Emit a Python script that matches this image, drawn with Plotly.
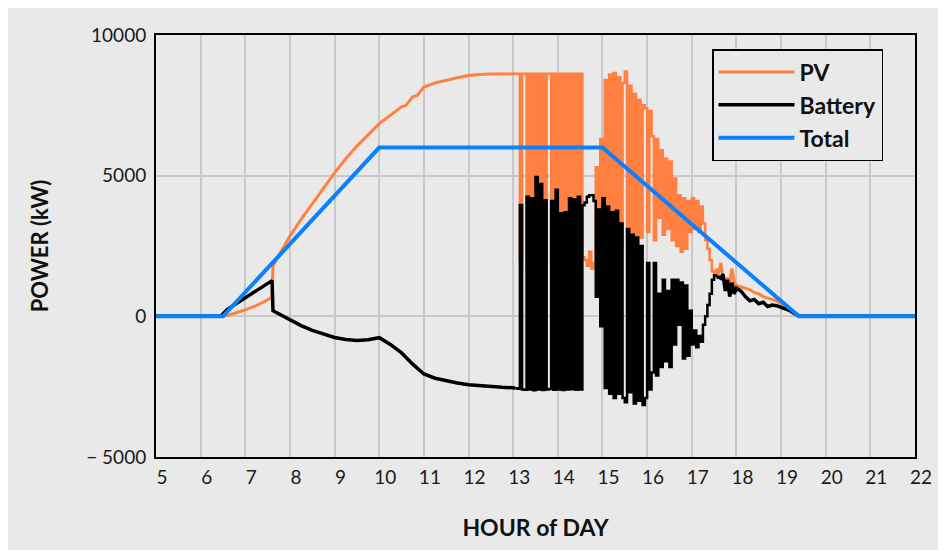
import plotly.graph_objects as go

# ---------------- data ----------------
total_t = [5, 6.5, 10.0, 15.0, 19.4, 22]
total_kw = [0, 0, 6000, 6000, 0, 0]

pv_head_t = [5, 6.45, 6.6, 6.8, 7.0, 7.2, 7.4, 7.6, 7.62, 7.8, 8.0, 8.25, 8.5, 8.75, 9.0, 9.25,
             9.5, 9.75, 10.0, 10.25, 10.5, 10.6, 10.75, 10.85, 11.0, 11.25, 11.5, 11.75, 12.0,
             12.25, 12.5, 12.75, 13.0, 13.05]
pv_head = [0, 0, 30, 120, 230, 350, 500, 680, 1800, 2300, 2850, 3450, 4000, 4550, 5100, 5600,
           6050, 6450, 6850, 7150, 7450, 7500, 7800, 7850, 8150, 8300, 8400, 8480, 8560,
           8600, 8610, 8620, 8620, 8620]

bat_head_t = [5, 6.45, 6.6, 6.8, 7.0, 7.2, 7.4, 7.6, 7.62, 7.8, 8.0, 8.25, 8.5, 8.75, 9.0, 9.25,
              9.5, 9.75, 9.95, 10.0, 10.25, 10.5, 10.75, 11.0, 11.25, 11.5, 11.75, 12.0, 12.25,
              12.5, 12.75, 13.0, 13.05]
bat_head = [0, 0, 250, 450, 680, 850, 1050, 1270, 200, 50, -150, -330, -500, -640, -750, -820,
            -860, -830, -770, -760, -1000, -1300, -1700, -2050, -2200, -2300, -2370, -2430, -2470,
            -2500, -2520, -2540, -2560]

noise_t = [13.05, 13.10, 13.15, 13.20, 13.25, 13.30, 13.35, 13.40, 13.45, 13.50,
           13.55, 13.60, 13.65, 13.70, 13.75, 13.80, 13.85, 13.90, 13.95, 14.00,
           14.05, 14.10, 14.15, 14.20, 14.25, 14.30, 14.35, 14.40, 14.45, 14.50,
           14.55, 14.60, 14.65, 14.70, 14.75, 14.80, 14.85, 14.90, 14.95, 15.00,
           15.05, 15.10, 15.15, 15.20, 15.25, 15.30, 15.35, 15.40, 15.45, 15.50,
           15.55, 15.60, 15.65, 15.70, 15.75, 15.80, 15.85, 15.90, 15.95, 16.00,
           16.05, 16.10, 16.15, 16.20, 16.25, 16.30, 16.35, 16.40, 16.45, 16.50,
           16.55, 16.60, 16.65, 16.70, 16.75, 16.80, 16.85, 16.90, 16.95, 17.00,
           17.05, 17.10, 17.15, 17.20, 17.25, 17.30, 17.35, 17.40, 17.45, 17.50,
           17.55]
pv_noise = [8620, 8620, 2000, 8620, 8620, 1700, 8620, 1800, 8620, 1050,
            8620, 1300, 8620, 1900, 8620, 8620, 1900, 8620, 1500, 8620,
            2400, 8620, 2300, 8620, 1800, 8620, 1900, 8620, 1800, 8620,
            2100, 2000, 1800, 2300, 1700, 1900, 5300, 2200, 6300, 1800,
            8400, 2000, 8600, 2200, 8650, 2100, 8500, 2500, 8300, 8700,
            2600, 8200, 2700, 7900, 2600, 7700, 2800, 7500, 7400, 3000,
            7300, 6400, 2700, 6300, 3500, 5900, 2900, 5600, 3100, 5500,
            2700, 4900, 2500, 4300, 2300, 4200, 2400, 4100, 3000, 4200,
            3100, 4100, 3000, 3900, 3300, 2700, 2400, 2000, 1600, 1500,
            1700]
bat_noise = [-2560, -2570, 3960, -2600, -2610, 4250, -2600, 4200, -2630, 4950,
             -2600, 4700, -2620, 4130, -2600, -2580, 4100, -2610, 4500, -2600,
             3660, -2620, 3700, -2600, 4200, -2590, 4150, -2610, 4250, -2600,
             3950, 4050, 4250, 4300, 4300, 4100, 700, 3800, -350, 4200,
             -2550, 3900, -2750, 3700, -2900, 3750, -2750, 3300, -2900, -3050,
             3100, -2700, 2900, -3100, 2800, -3000, 2500, -3150, -2900, 1900,
             -2600, -2000, 1900, -2100, 800, -1800, 1300, -1600, 900, -1800,
             1300, -1000, 1300, -300, 1200, -1500, 1100, -1400, 200, -1000,
             -500, -1100, -700, -900, -300, 0, 400, 800, 1300, 1450,
             1400]

tail_t = [17.55, 17.6, 17.65, 17.7, 17.75, 17.8, 17.85, 17.9, 17.95, 18.0, 18.1, 18.2, 18.3,
          18.4, 18.5, 18.6, 18.7, 18.8, 18.9, 19.0, 19.1, 19.2, 19.3, 19.4, 19.45, 22]
pv_tail = [1700, 1500, 1900, 1400, 1300, 1350, 1200, 1700, 1200, 1100, 1050, 1000, 950,
           850, 800, 700, 650, 600, 550, 450, 350, 250, 150, 30, 0, 0]
bat_tail = [1400, 1400, 1350, 1500, 900, 1300, 700, 1200, 800, 1000, 900, 700, 550,
            600, 450, 500, 350, 400, 380, 330, 250, 200, 100, 0, 0, 0]

x_ticks = list(range(5, 23))
y_ticks = [-5000, 0, 5000, 10000]
y_tick_text = ["\u2212 5000", "0", "5000", "10000"]

# ---------------- style ----------------
PV_C = "#ff8040"
BAT_C = "#000000"
TOT_C = "#0a80ff"
BG = "#e9e9e9"
FONT = "Lato"

fig = go.Figure()

fig.add_trace(go.Scatter(x=pv_head_t, y=pv_head, mode="lines", name="PV", legendgroup="pv",
                         line=dict(color=PV_C, width=3)))
fig.add_trace(go.Scatter(x=noise_t, y=pv_noise, mode="lines", name="PV", legendgroup="pv",
                         showlegend=False, line=dict(color=PV_C, width=2.5, shape="hv")))
fig.add_trace(go.Scatter(x=tail_t, y=pv_tail, mode="lines", name="PV", legendgroup="pv",
                         showlegend=False, line=dict(color=PV_C, width=3)))

fig.add_trace(go.Scatter(x=bat_head_t, y=bat_head, mode="lines", name="Battery", legendgroup="bat",
                         line=dict(color=BAT_C, width=3.5)))
fig.add_trace(go.Scatter(x=noise_t, y=bat_noise, mode="lines", name="Battery", legendgroup="bat",
                         showlegend=False, line=dict(color=BAT_C, width=2.5, shape="hv")))
fig.add_trace(go.Scatter(x=tail_t, y=bat_tail, mode="lines", name="Battery", legendgroup="bat",
                         showlegend=False, line=dict(color=BAT_C, width=3.5)))

fig.add_trace(go.Scatter(x=total_t, y=total_kw, mode="lines", name="Total", legendgroup="tot",
                         line=dict(color=TOT_C, width=4)))

fig.update_layout(
    width=946, height=550,
    margin=dict(l=148, r=39, t=27, b=101),
    paper_bgcolor=BG, plot_bgcolor=BG,
    font=dict(family=FONT, color="#1a1a1a"),
    legend=dict(x=(712 - 156) / 759, y=(457 - 49) / 422, xanchor="left", yanchor="top",
                bgcolor=BG, bordercolor="#000000", borderwidth=1.5,
                font=dict(family=FONT, size=23, color="#111111", weight="bold"),
                traceorder="grouped", tracegroupgap=0, itemwidth=76),
)
fig.update_xaxes(range=[5, 22], tickvals=x_ticks, showgrid=True, gridcolor="#c8c8c8", gridwidth=1.5,
                 showline=True, linecolor="#000000", linewidth=2, mirror=True, zeroline=False,
                 tickfont=dict(family=FONT, size=19, color="#1a1a1a"), ticklabelshift=6,
                 ticklabelstandoff=2,
                 title=dict(text="HOUR of DAY", font=dict(family=FONT, size=23, weight="bold", color="#111111"),
                            standoff=33))
fig.update_yaxes(range=[-5000, 10000], tickvals=y_ticks, ticktext=y_tick_text, showgrid=True,
                 gridcolor="#c8c8c8", gridwidth=1.5, showline=True, linecolor="#000000", linewidth=2,
                 mirror=True, zeroline=False, tickfont=dict(family=FONT, size=19, color="#1a1a1a"),
                 ticklabelstandoff=4,
                 title=dict(text="POWER (kW)", font=dict(family=FONT, size=22, weight="bold", color="#111111"),
                            standoff=32))

fig.write_html("out.html")
